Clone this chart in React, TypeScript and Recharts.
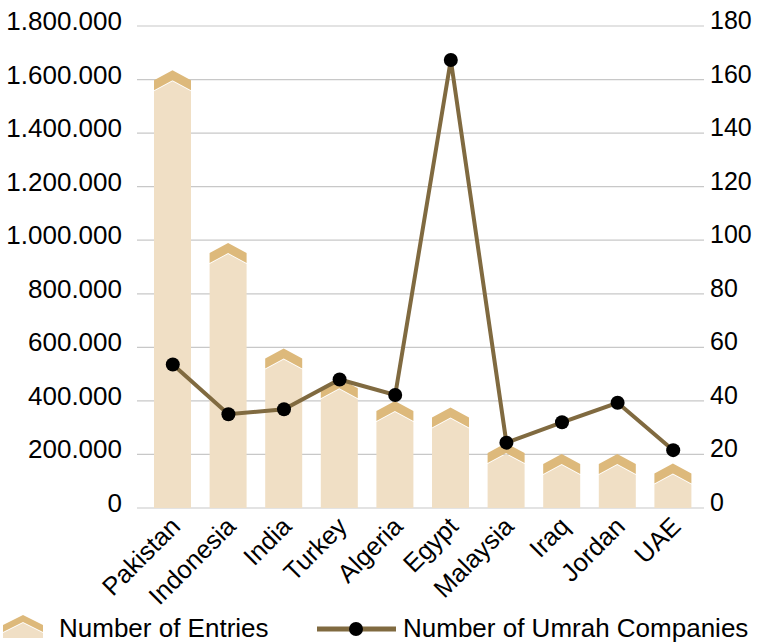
import { ComposedChart, Bar, Line, XAxis, YAxis, CartesianGrid, Legend } from 'recharts';

const countries = ['Pakistan', 'Indonesia', 'India', 'Turkey', 'Algeria', 'Egypt', 'Malaysia', 'Iraq', 'Jordan', 'UAE'];
const entries = [1597000, 952000, 558000, 447000, 362000, 338000, 205000, 164000, 164000, 129000];
const umrahCompanies = [53.6, 35, 36.9, 48, 42.2, 167.3, 24.4, 32, 39.3, 21.6];
const entryTicks = [0, 200000, 400000, 600000, 800000, 1000000, 1200000, 1400000, 1600000, 1800000];
const companyTicks = [0, 20, 40, 60, 80, 100, 120, 140, 160, 180];

const CAP = '#DDB97B';
const BODY = '#F0DFC5';
const LINE = '#806A40';
const FONT = '"Liberation Sans", Arial, Helvetica, sans-serif';

const data = countries.map((name, i) => ({
  name,
  entries: entries[i],
  companies: umrahCompanies[i],
}));

// dots as thousands separator, like the original
const fmt = (v: number) => String(v).replace(/\B(?=(\d{3})+(?!\d))/g, '.');

function ChevronBar(props: any) {
  const { x, y, width, height } = props;
  if (!height) return null;
  const mid = x + width / 2;
  const rise = 10;
  const band = 10;
  const bottom = y + height;
  const cap = `${x},${y} ${mid},${y - rise} ${x + width},${y} ${x + width},${y + band} ${mid},${y + band - rise} ${x},${y + band}`;
  const body = `${x},${y + band + 1} ${mid},${y + band - rise + 1} ${x + width},${y + band + 1} ${x + width},${bottom} ${x},${bottom}`;
  return (
    <g>
      <polygon points={cap} fill={CAP} />
      <polygon points={body} fill={BODY} />
    </g>
  );
}

const LeftTick = ({ x, y, payload }: any) => (
  <text x={x} y={y - 5} textAnchor="end" dominantBaseline="central" fontSize={26} fontFamily={FONT} fill="#000">
    {fmt(payload.value)}
  </text>
);

const RightTick = ({ x, y, payload }: any) => (
  <text x={x} y={y - 6} textAnchor="start" dominantBaseline="central" fontSize={25} fontFamily={FONT} fill="#000">
    {payload.value}
  </text>
);

const CountryTick = ({ x, y, payload }: any) => {
  const ax = x + 9;
  return (
    <text x={ax} y={y} textAnchor="end" fontSize={25.5} fontFamily={FONT} fill="#000" transform={`rotate(-45 ${ax} ${y})`}>
      {payload.value}
    </text>
  );
};

const renderLegend = () => (
  <svg width={765} height={36} style={{ display: 'block' }}>
    <polygon points="3,17 23,7 43,17 43,24 23,14 3,24" fill={CAP} />
    <polygon points="3,25 23,15 43,25 43,30 3,30" fill={BODY} />
    <text x={59} y={29} fontSize={26} fontFamily={FONT} fill="#000">Number of Entries</text>
    <line x1={317} y1={21} x2={396} y2={21} stroke={LINE} strokeWidth={5} />
    <circle cx={356} cy={21} r={7} fill="#000" />
    <text x={403} y={29} fontSize={26} fontFamily={FONT} fill="#000">Number of Umrah Companies</text>
  </svg>
);

export default function App() {
  return (
    <div style={{ position: 'absolute', left: 0, top: 0, width: 765, height: 644, background: '#fff' }}>
      <ComposedChart width={765} height={644} data={data} margin={{ top: 26, right: 0, bottom: 0, left: 0 }}>
        <CartesianGrid vertical={false} stroke="#c8c8c8" strokeWidth={1.2} yAxisId="left" />
        <XAxis
          dataKey="name"
          height={100}
          interval={0}
          padding={{ left: 8, right: 3 }}
          tickLine={false}
          axisLine={false}
          tickMargin={14}
          tick={<CountryTick />}
        />
        <YAxis
          yAxisId="left"
          width={137}
          domain={[0, 1800000]}
          ticks={entryTicks}
          tickLine={false}
          axisLine={false}
          tickMargin={9}
          tick={<LeftTick />}
        />
        <YAxis
          yAxisId="right"
          orientation="right"
          width={61}
          domain={[0, 180]}
          ticks={companyTicks}
          tickLine={false}
          axisLine={false}
          tickMargin={0}
          tick={<RightTick />}
        />
        <Bar yAxisId="left" dataKey="entries" name="Number of Entries" barSize={37} shape={<ChevronBar />} isAnimationActive={false} />
        <Line
          yAxisId="right"
          dataKey="companies"
          name="Number of Umrah Companies"
          stroke={LINE}
          strokeWidth={4}
          dot={{ r: 7, fill: '#000', stroke: 'none' }}
          activeDot={false}
          isAnimationActive={false}
        />
        <Legend verticalAlign="bottom" height={36} content={renderLegend} />
      </ComposedChart>
    </div>
  );
}
